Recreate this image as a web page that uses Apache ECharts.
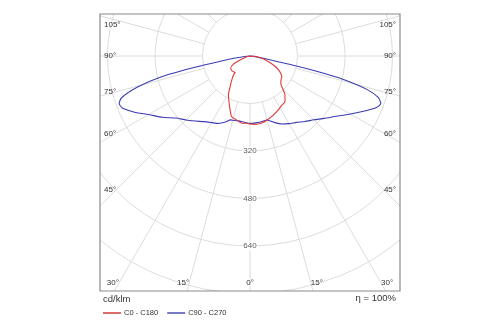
<!DOCTYPE html>
<html><head><meta charset="utf-8">
<script src="https://cdn.jsdelivr.net/npm/echarts@6/dist/echarts.min.js"></script>
<style>html,body{margin:0;padding:0;background:#fff}#c{width:500px;height:325px}</style>
</head><body><div id="c"></div>
<script>
// ---- data (angle from nadir in degrees, negative = left half; intensity in cd/klm) ----
const seriesNames = ['C0 - C180', 'C90 - C270'];
const c0c180Angles = [-90,-80,-75,-68,-64,-57.5,-51,-46,-42,-41,-37,-33,-29,-25,-21,-17,-12,-7,-3,0,4,10,15,21.5,27.7,33,37.4,42,44.4,48,52,57,62,67,72,78,85,90];
const c0c180Values = [0,8,15,36,62,77,79,77,75,85,102,123,150,168,189,213,220,228,227,229,231,229,223,214,205,197,194,176,160,140,132,128,114,95,70,45,20,0];
const c90c270Angles = [-90,-85,-82,-80,-78.4,-76.8,-74.6,-72,-70,-68,-65,-63,-60,-55,-50,-45,-40,-35,-30,-25,-20,-17,-15,-10,-5,0,5,10,15,20,25,30,35,40,45,50,55,60,65,68,70,72,74,76,77,78,80,85,90];
const c90c270Values = [0,17,50,101,189,306,391,455,469,465,441,423,394,360,325,305,286,270,259,251,236,225,224,222,224,227,226,225,223,238,253,263,273,288,304,327,354,391,434,461,469,455,411,320,236,135,50,13,0];
const radiusLabels = [320, 480, 640];
const radialAngles = [-165,-150,-135,-120,-105,-90,-75,-60,-45,-30,-15,0,15,30,45,60,75,90,105,120,135,150,165,180];
const sideAngleLabels = [105, 90, 75, 60, 45];
const bottomAngleLabels = [-30, -15, 0, 15, 30];
const unitText = 'cd/klm';
const efficiencyText = 'η = 100%';

// ---- layout ----
const CX = 250, CY = 56, RPX = 285, RMAX = 960;
const BOX = {x: 100, y: 14, w: 300, h: 277};
const FONT = 'Liberation Sans, Arial, sans-serif';
const chart = echarts.init(document.getElementById('c'));

const gfx = [];
gfx.push({type:'rect', z:50, silent:true, shape:{x:0,y:0,width:500,height:BOX.y}, style:{fill:'#fff'}});
gfx.push({type:'rect', z:50, silent:true, shape:{x:0,y:BOX.y+BOX.h,width:500,height:325-BOX.y-BOX.h}, style:{fill:'#fff'}});
gfx.push({type:'rect', z:50, silent:true, shape:{x:0,y:0,width:BOX.x,height:325}, style:{fill:'#fff'}});
gfx.push({type:'rect', z:50, silent:true, shape:{x:BOX.x+BOX.w,y:0,width:500-BOX.x-BOX.w,height:325}, style:{fill:'#fff'}});
gfx.push({type:'rect', z:51, silent:true, shape:{x:BOX.x,y:BOX.y,width:BOX.w,height:BOX.h}, style:{fill:'none', stroke:'#8a8a8a', lineWidth:1.2}});

function txt(t, x, y, align, size) {
  gfx.push({type:'text', z:60, silent:true, style:{text:t, x:x, y:y, textAlign:align, textVerticalAlign:'middle', fill:'#333', fontSize:size, fontFamily:FONT}});
}
sideAngleLabels.forEach(a => {
  const dy = 134 / Math.tan(a * Math.PI / 180);
  const y = Math.max(CY + dy, BOX.y + 11);
  txt(a + '°', BOX.x + 4, y, 'left', 8);
  txt(a + '°', BOX.x + BOX.w - 4, y, 'right', 8);
});
bottomAngleLabels.forEach(a => {
  const yb = BOX.y + BOX.h - 8;
  const dx = (yb - CY) * Math.tan(Math.abs(a) * Math.PI / 180);
  if (a < 0) txt(Math.abs(a) + '°', CX - dx, yb, 'right', 8);
  else if (a > 0) txt(a + '°', CX + dx, yb, 'left', 8);
  else txt('0°', CX, yb, 'center', 8);
});
txt(unitText, BOX.x + 3, 299, 'left', 9.5);
txt(efficiencyText, BOX.x + BOX.w - 4, 298, 'right', 9.5);

const zip = (as, vs) => as.map((a, i) => [vs[i], a]);

chart.setOption({
  animation: false,
  polar: {center: [CX, CY], radius: RPX},
  angleAxis: {type:'value', min:-180, max:180, startAngle:90, clockwise:false,
    axisLine:{show:false}, axisTick:{show:false}, axisLabel:{show:false}, splitLine:{show:false}},
  radiusAxis: {type:'value', min:0, max:RMAX, interval:160,
    axisLine:{show:false}, axisTick:{show:false}, axisLabel:{show:false},
    splitLine:{show:true, lineStyle:{color:'#dcdcdc', width:1}}},
  legend: {z:60, left: BOX.x - 2, top: 304, itemWidth: 18, itemHeight: 2, itemGap: 9, icon:'rect',
    textStyle:{fontSize:7.5, color:'#333', fontFamily:FONT, padding:[0,0,0,-2]},
    data:[{name:seriesNames[0], itemStyle:{color:'#e06a6a'}}, {name:seriesNames[1], itemStyle:{color:'#7a7acc'}}]},
  graphic: {elements: gfx},
  series: [
    {type:'custom', coordinateSystem:'polar', silent:true, z:1,
      data: radialAngles.map(a => [RMAX, a]),
      renderItem: (params, api) => {
        const a = api.value(1);
        const p1 = api.coord([160, a]), p2 = api.coord([RMAX, a]);
        return {type:'line', shape:{x1:p1[0], y1:p1[1], x2:p2[0], y2:p2[1]}, style:{stroke:'#dcdcdc', lineWidth:1}};
      }},
    {name: seriesNames[0], type:'line', coordinateSystem:'polar', z:4, symbol:'none', smooth:0.2,
      lineStyle:{color:'#e03a3a', width:1.1}, itemStyle:{color:'#e03a3a'}, data: zip(c0c180Angles, c0c180Values)},
    {name: seriesNames[1], type:'line', coordinateSystem:'polar', z:3, symbol:'none', smooth:0.2,
      lineStyle:{color:'#3c3cb4', width:1.1}, itemStyle:{color:'#3c3cb4'}, data: zip(c90c270Angles, c90c270Values)},
    {type:'scatter', coordinateSystem:'polar', z:5, silent:true, symbolSize:0.1,
      data: radiusLabels.map(r => [r, 0]),
      label:{show:true, position:'inside', formatter: p => String(p.value[0]), color:'#333', fontSize:8, fontFamily:FONT, backgroundColor:'#fff', padding:[1,1]}}
  ]
});
</script></body></html>
